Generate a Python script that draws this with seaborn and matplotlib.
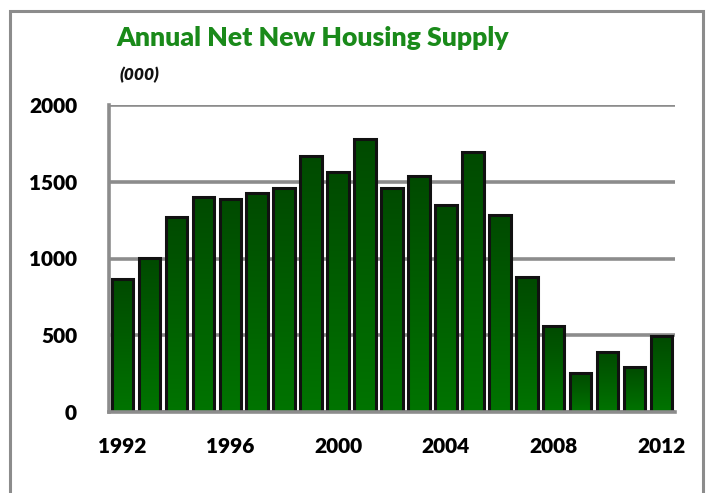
import numpy as np
import pandas as pd
import matplotlib
matplotlib.use("Agg")
import matplotlib.pyplot as plt
import seaborn as sns
from matplotlib.colors import LinearSegmentedColormap
from matplotlib.patches import Rectangle

years = list(range(1992, 2013))
supply = [865, 1005, 1270, 1400, 1388, 1424, 1462, 1668, 1566, 1780, 1462,
          1538, 1348, 1693, 1285, 878, 560, 253, 393, 294, 495]
xtick_labels = ["1992", "1996", "2000", "2004", "2008", "2012"]
yticks = [0, 500, 1000, 1500, 2000]

df = pd.DataFrame({"year": [str(y) for y in years], "supply": supply})

sns.set_style("white")
plt.rcParams['font.family'] = ['Lato', 'DejaVu Sans']

fig = plt.figure(figsize=(7.07, 4.93), dpi=100)
W, H = 707, 493

# outer frame
fig.patches.append(Rectangle((10 / W, -0.05), (703 - 10) / W, (493 - 11) / H + 0.05,
                             transform=fig.transFigure, fill=False,
                             edgecolor="#8c8c8c", linewidth=2.2, zorder=0))

ax = fig.add_axes([109 / W, (493 - 412) / H, (675 - 109) / W, (412 - 105) / H])
sns.barplot(data=df, x="year", y="supply", ax=ax, width=0.8,
            color="#006000", edgecolor="#111111", linewidth=2.2, zorder=3)

cmap = LinearSegmentedColormap.from_list("g", ["#007400", "#004a00"])
grad = np.linspace(0, 1, 256).reshape(-1, 1)
for p in ax.patches:
    x0, y0 = p.get_x(), p.get_y()
    w, h = p.get_width(), p.get_height()
    p.set_facecolor("none")
    im = ax.imshow(grad, cmap=cmap, aspect="auto", origin="lower",
                   extent=[x0, x0 + w, y0, y0 + h], zorder=2.5,
                   interpolation="bilinear")
    im.set_clip_path(p)

ax.set_xlim(-0.5, len(years) - 0.5)
ax.set_ylim(0, 2000)
ax.set_xlabel("")
ax.set_ylabel("")

ax.set_yticks(yticks)
ax.set_yticklabels([str(v) for v in yticks], fontsize=15, fontweight="heavy", color="black")
ax.yaxis.grid(True, color="#8c8c8c", linewidth=2.6, zorder=1)
ax.set_axisbelow(True)

idx = [years.index(int(t)) for t in xtick_labels]
ax.set_xticks(idx)
ax.set_xticklabels(xtick_labels, fontsize=15, fontweight="heavy", color="black")
ax.set_xticks([i - 0.5 for i in range(0, len(years), 4)], minor=True)
ax.tick_params(axis="x", which="major", length=0, pad=18)
ax.tick_params(axis="x", which="minor", length=8, width=2.4, color="#8c8c8c")
ax.tick_params(axis="y", which="major", length=9, width=2.4, color="#8c8c8c", pad=14)

for s in ["top", "right"]:
    ax.spines[s].set_visible(False)
for s in ["left", "bottom"]:
    ax.spines[s].set_color("#8c8c8c")
    ax.spines[s].set_linewidth(2.6)
    ax.spines[s].set_zorder(4)

fig.text(116 / W, 1 - 38 / H, "Annual Net New Housing Supply", color="#1a8a1a",
         fontsize=19.2, fontweight="heavy", va="center", ha="left")
fig.text(120 / W, 1 - 75 / H, "(000)", color="#111111", fontsize=12.5,
         fontweight="heavy", fontstyle="italic", va="center", ha="left")

fig.savefig("out.png", dpi=100)
